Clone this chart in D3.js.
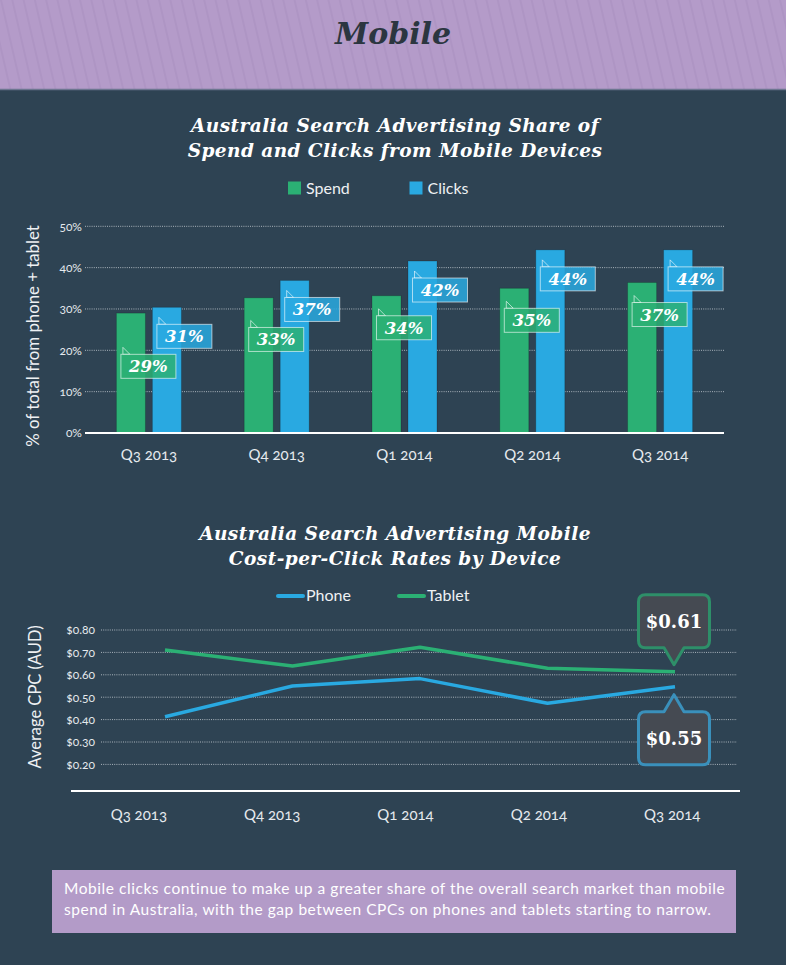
<!DOCTYPE html>
<html>
<head>
<meta charset="utf-8">
<script src="https://cdn.jsdelivr.net/npm/d3@7/dist/d3.min.js"></script>
<style>
	body { margin: 0; background: #2e4353; }
	svg { display: block; }
	.sans { font-family: Lato, 'Noto Sans', sans-serif; }
	.serif { font-family: 'DejaVu Serif', serif; font-weight: bold; font-style: italic; }
	.axis text { fill: #e6eaee; font-family: Lato, sans-serif; font-variant-numeric: oldstyle-nums; }
</style>
</head>
<body>
<svg id="chart" width="786" height="965"></svg>
<script>
// share of spend / clicks from mobile (%)
const quarters = ['Q3 2013', 'Q4 2013', 'Q1 2014', 'Q2 2014', 'Q3 2014'];
const spendShare = [29.0, 32.7, 33.2, 35.0, 36.4];
const clicksShare = [30.4, 36.9, 41.6, 44.3, 44.3];
const spendLabels = ['29%', '33%', '34%', '35%', '37%'];
const clicksLabels = ['31%', '37%', '42%', '44%', '44%'];
const shareTicks = [0, 10, 20, 30, 40, 50];

// average CPC (AUD)
const phoneCpc = [0.413, 0.55, 0.583, 0.473, 0.547];
const tabletCpc = [0.711, 0.639, 0.723, 0.629, 0.614];
const cpcTicks = [0.2, 0.3, 0.4, 0.5, 0.6, 0.7, 0.8];
const tabletCallout = '$0.61';
const phoneCallout = '$0.55';

const summaryLines = [
	'Mobile clicks continue to make up a greater share of the overall search market than mobile',
	'spend in Australia, with the gap between CPCs on phones and tablets starting to narrow.'
];

const green = '#2bb074';
const blue = '#29a9e1';
const textColor = '#eef1f3';

const svg = d3.select('#chart');

// header band
let defs = svg.append('defs');
defs.append('pattern')
	.attr('id', 'stripes')
	.attr('width', 11).attr('height', 11)
	.attr('patternUnits', 'userSpaceOnUse')
	.attr('patternTransform', 'rotate(-13)')
	.append('line')
	.attr('x1', 1).attr('y1', 0).attr('x2', 1).attr('y2', 11)
	.attr('stroke', '#9f86b8').attr('stroke-width', 1.2).attr('stroke-opacity', 0.5);

svg.append('rect').attr('width', 786).attr('height', 965).attr('fill', '#2e4353');
svg.append('rect').attr('width', 786).attr('height', 89).attr('fill', '#b49bc9');
svg.append('rect').attr('width', 786).attr('height', 89).attr('fill', 'url(#stripes)');
svg.append('line')
	.attr('x1', 0).attr('x2', 786).attr('y1', 89.5).attr('y2', 89.5)
	.attr('stroke', '#6c7690').attr('stroke-width', 1.5);
svg.append('text')
	.attr('class', 'serif')
	.attr('x', 393).attr('y', 44)
	.attr('text-anchor', 'middle')
	.style('font-size', '30px')
	.attr('fill', '#2b3640')
	.text('Mobile');

function title(lines, y){
	svg.append('text')
		.attr('class', 'serif')
		.attr('text-anchor', 'middle')
		.attr('fill', '#ffffff')
		.style('font-size', '18.5px')
		.style('letter-spacing', '0.45px')
		.selectAll('tspan')
		.data(lines).enter()
		.append('tspan')
		.attr('x', 395)
		.attr('y', function(d, i){ return y + i * 24.5; })
		.text(function(d){ return d; });
}

// ---------- bar chart ----------
title(['Australia Search Advertising Share of', 'Spend and Clicks from Mobile Devices'], 132);

let legend1 = svg.append('g').attr('class', 'sans');
[['Spend', green, 288], ['Clicks', blue, 409.5]].forEach(function(d){
	legend1.append('rect').attr('x', d[2]).attr('y', 181.5).attr('width', 13).attr('height', 13).attr('fill', d[1]);
	legend1.append('text').attr('x', d[2] + 18).attr('y', 194)
		.attr('fill', textColor).style('font-size', '16px').text(d[0]);
});

let xBand = d3.scaleBand()
	.domain(quarters)
	.range([85, 724]);

let yShare = d3.scaleLinear()
	.domain([0, 50])
	.range([433, 226.3]);

svg.append('g')
	.selectAll('line')
	.data(shareTicks.filter(function(t){ return t > 0; })).enter()
	.append('line')
	.attr('x1', 85).attr('x2', 724)
	.attr('y1', function(d){ return yShare(d); })
	.attr('y2', function(d){ return yShare(d); })
	.attr('stroke', '#aab4bc')
	.attr('stroke-dasharray', '1,1.2');

let yAxis = d3.axisLeft(yShare)
	.tickValues(shareTicks)
	.tickFormat(function(d){ return d + '%'; })
	.tickSize(0)
	.tickPadding(3);

svg.append('g')
	.attr('class', 'y axis')
	.attr('transform', 'translate(85,0)')
	.call(yAxis)
	.call(function(g){ g.select('.domain').remove(); })
	.selectAll('text')
	.style('font-size', '12px');

let xAxis = d3.axisBottom(xBand).tickSize(0).tickPadding(16);
svg.append('g')
	.attr('class', 'x axis')
	.attr('transform', 'translate(0,433)')
	.call(xAxis)
	.call(function(g){ g.select('.domain').remove(); })
	.selectAll('text')
	.attr('fill', '#ffffff')
	.style('font-size', '15px');

svg.append('text')
	.attr('class', 'sans')
	.attr('transform', 'translate(39,336)rotate(-90)')
	.attr('text-anchor', 'middle')
	.attr('fill', textColor)
	.style('font-size', '16.8px')
	.text('% of total from phone + tablet');

let groups = svg.append('g').selectAll('g')
	.data(quarters).enter()
	.append('g')
	.attr('transform', function(d){
		return 'translate(' + (xBand(d) + xBand.bandwidth() / 2) + ',0)';
	});

const barWidth = 29;
const tagW = 55, tagH = 24;
let series = [
	{values: spendShare, labels: spendLabels, color: green, dx: -32.5, tagDy: 20},
	{values: clicksShare, labels: clicksLabels, color: blue, dx: 3.5, tagDy: 17}
];

series.forEach(function(s){
	groups.append('rect')
		.attr('x', s.dx)
		.attr('width', barWidth)
		.attr('y', function(d, i){ return yShare(s.values[i]); })
		.attr('height', function(d, i){ return 433 - yShare(s.values[i]); })
		.attr('fill', s.color)
		.attr('stroke', 'rgba(0,0,0,0.18)');
});

// tag top: just below the bar top; the spend tag is pushed under the clicks tag if they would overlap
function tagTop(s, i){
	let top = yShare(s.values[i]) + s.tagDy;
	if (s === series[0]){
		let clicksTop = yShare(series[1].values[i]) + series[1].tagDy;
		top = Math.max(top, clicksTop + tagH + 6);
	}
	return top;
}

series.forEach(function(s){
	let tags = groups.append('g')
		.attr('transform', function(d, i){
			return 'translate(' + (s.dx + 4.5) + ',' + tagTop(s, i) + ')';
		});
	tags.append('path')
		.attr('d', 'M2,0V-7L9,0Z')
		.attr('fill', s.color).attr('fill-opacity', 0.85)
		.attr('stroke', 'rgba(255,255,255,0.6)');
	tags.append('rect')
		.attr('width', tagW).attr('height', tagH)
		.attr('fill', s.color).attr('fill-opacity', 0.85)
		.attr('stroke', 'rgba(255,255,255,0.6)');
	tags.append('text')
		.attr('class', 'serif')
		.attr('x', tagW / 2).attr('y', 18)
		.attr('text-anchor', 'middle')
		.attr('fill', '#ffffff')
		.style('font-size', '16.5px')
		.text(function(d, i){ return s.labels[i]; });
});

svg.append('line')
	.attr('x1', 85).attr('x2', 724).attr('y1', 433).attr('y2', 433)
	.attr('stroke', '#ffffff').attr('stroke-width', 2);

// ---------- line chart ----------
title(['Australia Search Advertising Mobile', 'Cost-per-Click Rates by Device'], 540);

let legend2 = svg.append('g').attr('class', 'sans');
[['Phone', blue, 278], ['Tablet', green, 399]].forEach(function(d){
	legend2.append('line').attr('x1', d[2]).attr('x2', d[2] + 25).attr('y1', 596).attr('y2', 596)
		.attr('stroke', d[1]).attr('stroke-width', 4).attr('stroke-linecap', 'round');
	legend2.append('text').attr('x', d[2] + 28).attr('y', 601)
		.attr('fill', textColor).style('font-size', '16px').text(d[0]);
});

let yCpc = d3.scaleLinear()
	.domain([0.2, 0.8])
	.range([764.4, 630]);

let xPoint = d3.scalePoint()
	.domain(quarters)
	.range([165, 675]);

let xLabel = d3.scalePoint()
	.domain(quarters)
	.range([138.3, 671.7]);

svg.append('g')
	.selectAll('line')
	.data(cpcTicks).enter()
	.append('line')
	.attr('x1', 101).attr('x2', 737)
	.attr('y1', function(d){ return yCpc(d); })
	.attr('y2', function(d){ return yCpc(d); })
	.attr('stroke', '#aab4bc')
	.attr('stroke-dasharray', '1,1.2');

svg.append('g')
	.attr('class', 'y axis')
	.attr('transform', 'translate(101,0)')
	.call(d3.axisLeft(yCpc).tickValues(cpcTicks).tickFormat(d3.format('$.2f')).tickSize(0).tickPadding(6))
	.call(function(g){ g.select('.domain').remove(); })
	.selectAll('text')
	.style('font-size', '12px');

svg.append('g')
	.attr('class', 'x axis')
	.attr('transform', 'translate(0,791)')
	.call(d3.axisBottom(xLabel).tickSize(0).tickPadding(18))
	.call(function(g){ g.select('.domain').remove(); })
	.selectAll('text')
	.attr('fill', '#ffffff')
	.style('font-size', '15px');

svg.append('line')
	.attr('x1', 71).attr('x2', 740).attr('y1', 791).attr('y2', 791)
	.attr('stroke', '#ffffff').attr('stroke-width', 2);

svg.append('text')
	.attr('class', 'sans')
	.attr('transform', 'translate(41,697)rotate(-90)')
	.attr('text-anchor', 'middle')
	.attr('fill', textColor)
	.style('font-size', '16.5px')
	.text('Average CPC (AUD)');

let line = d3.line()
	.x(function(d, i){ return xPoint(quarters[i]); })
	.y(function(d){ return yCpc(d); });

[[tabletCpc, green], [phoneCpc, blue]].forEach(function(s){
	svg.append('path')
		.datum(s[0])
		.attr('d', line)
		.attr('fill', 'none')
		.attr('stroke', s[1])
		.attr('stroke-width', 3.5)
		.attr('stroke-linejoin', 'round');
});

// callout box with a pointer, dir = 1 pointer below box, -1 pointer above
function callout(cx, tipY, dir, label, color){
	let w = 71, h = 53, r = 7, pw = 10, ph = 17;
	let x0 = cx - w / 2, x1 = cx + w / 2;
	let y0, y1, p;
	if (dir > 0){
		y1 = tipY - ph; y0 = y1 - h;
		p = 'M' + (x0 + r) + ',' + y0 + 'H' + (x1 - r) + 'Q' + x1 + ',' + y0 + ' ' + x1 + ',' + (y0 + r) +
			'V' + (y1 - r) + 'Q' + x1 + ',' + y1 + ' ' + (x1 - r) + ',' + y1 +
			'H' + (cx + pw) + 'L' + cx + ',' + tipY + 'L' + (cx - pw) + ',' + y1 +
			'H' + (x0 + r) + 'Q' + x0 + ',' + y1 + ' ' + x0 + ',' + (y1 - r) +
			'V' + (y0 + r) + 'Q' + x0 + ',' + y0 + ' ' + (x0 + r) + ',' + y0 + 'Z';
	} else {
		y0 = tipY + ph; y1 = y0 + h;
		p = 'M' + (x0 + r) + ',' + y0 + 'H' + (cx - pw) + 'L' + cx + ',' + tipY + 'L' + (cx + pw) + ',' + y0 +
			'H' + (x1 - r) + 'Q' + x1 + ',' + y0 + ' ' + x1 + ',' + (y0 + r) +
			'V' + (y1 - r) + 'Q' + x1 + ',' + y1 + ' ' + (x1 - r) + ',' + y1 +
			'H' + (x0 + r) + 'Q' + x0 + ',' + y1 + ' ' + x0 + ',' + (y1 - r) +
			'V' + (y0 + r) + 'Q' + x0 + ',' + y0 + ' ' + (x0 + r) + ',' + y0 + 'Z';
	}
	svg.append('path')
		.attr('d', p)
		.attr('fill', '#454a52')
		.attr('stroke', color)
		.attr('stroke-width', 3)
		.attr('stroke-linejoin', 'round');
	svg.append('text')
		.attr('x', cx).attr('y', y0 + 33)
		.attr('text-anchor', 'middle')
		.attr('fill', '#ffffff')
		.style('font-family', "'DejaVu Serif', serif")
		.style('font-weight', 'bold')
		.style('font-size', '18px')
		.text(label);
}

let lastQ = quarters[quarters.length - 1];
callout(xPoint(lastQ) - 1, yCpc(tabletCpc[4]) - 7, 1, tabletCallout, '#2e8f69');
callout(xPoint(lastQ) - 1, yCpc(phoneCpc[4]) + 8, -1, phoneCallout, '#3a90bb');

// ---------- summary box ----------
svg.append('rect')
	.attr('x', 52).attr('y', 870).attr('width', 684).attr('height', 63)
	.attr('fill', '#b39bc8');
svg.append('text')
	.attr('class', 'sans')
	.attr('fill', '#ffffff')
	.style('font-size', '15.5px')
	.style('letter-spacing', '0.55px')
	.selectAll('tspan')
	.data(summaryLines).enter()
	.append('tspan')
	.attr('x', 64)
	.attr('y', function(d, i){ return 894 + i * 21; })
	.text(function(d){ return d; });
</script>
</body>
</html>
